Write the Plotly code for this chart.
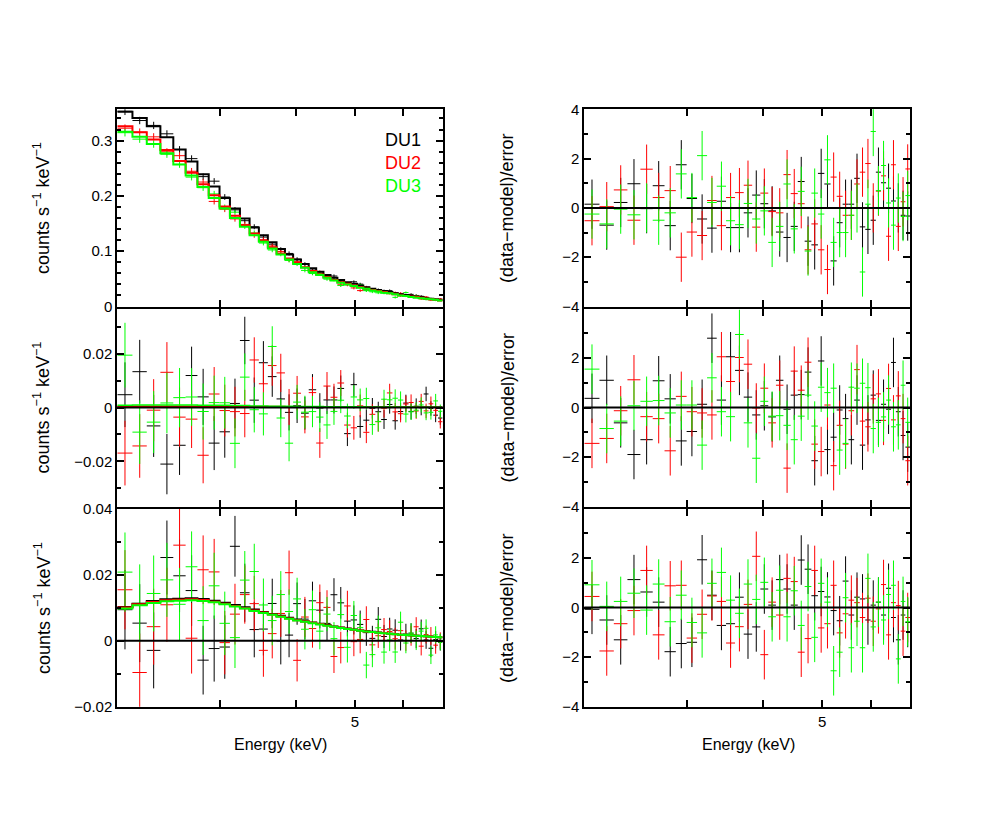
import math
import plotly.graph_objects as go

# ---------------- data ----------------
energy = [2.10, 2.22, 2.34, 2.46, 2.58, 2.70, 2.82, 2.94, 3.06, 3.18,
          3.30, 3.42, 3.54, 3.66, 3.78, 3.90, 4.02, 4.14, 4.26, 4.38,
          4.50, 4.62, 4.74, 4.86, 4.98, 5.10, 5.22, 5.34, 5.46, 5.58,
          5.70, 5.82, 5.94, 6.06, 6.18, 6.30, 6.42, 6.54, 6.66, 6.78, 6.90]
bin_half = 0.06

# Stokes I model (counts/s/keV)
I_model_du1 = [0.352, 0.341, 0.326, 0.306, 0.284, 0.262, 0.239, 0.217, 0.196, 0.177,
               0.159, 0.143, 0.129, 0.116, 0.104, 0.094, 0.085, 0.077, 0.069, 0.063,
               0.057, 0.052, 0.048, 0.044, 0.041, 0.038, 0.035, 0.032, 0.030, 0.028,
               0.026, 0.024, 0.022, 0.021, 0.019, 0.018, 0.017, 0.015, 0.014, 0.013, 0.012]
I_model_du2 = [0.326, 0.315, 0.302, 0.283, 0.263, 0.242, 0.221, 0.201, 0.181, 0.164,
               0.147, 0.132, 0.119, 0.107, 0.096, 0.087, 0.079, 0.071, 0.064, 0.058,
               0.053, 0.048, 0.044, 0.041, 0.038, 0.035, 0.032, 0.030, 0.028, 0.026,
               0.024, 0.022, 0.020, 0.019, 0.018, 0.017, 0.016, 0.014, 0.013, 0.012, 0.011]
I_model_du3 = [0.316, 0.307, 0.294, 0.277, 0.257, 0.237, 0.216, 0.196, 0.177, 0.160,
               0.144, 0.129, 0.117, 0.105, 0.094, 0.085, 0.077, 0.070, 0.062, 0.057,
               0.052, 0.047, 0.043, 0.040, 0.037, 0.034, 0.032, 0.029, 0.027, 0.025,
               0.024, 0.022, 0.020, 0.019, 0.017, 0.016, 0.015, 0.014, 0.013, 0.012, 0.011]
I_err = [0.0068, 0.0067, 0.0066, 0.0064, 0.0062, 0.0060, 0.0058, 0.0055, 0.0052, 0.0050,
         0.0047, 0.0045, 0.0043, 0.0041, 0.0039, 0.0037, 0.0035, 0.0034, 0.0032, 0.0031,
         0.0030, 0.0029, 0.0028, 0.0027, 0.0026, 0.0025, 0.0024, 0.0024, 0.0023, 0.0022,
         0.0022, 0.0021, 0.0021, 0.0020, 0.0020, 0.0019, 0.0019, 0.0018, 0.0018, 0.0017, 0.0017]

# Stokes Q model
Q_model_du1 = [0.0003, 0.0003, 0.0003, 0.0003, 0.0003, 0.0003, 0.0003, 0.0003, 0.0003, 0.0003,
               0.0002, 0.0002, 0.0002, 0.0002, 0.0002, 0.0002, 0.0002, 0.0002, 0.0002, 0.0002,
               0.0002, 0.0002, 0.0002, 0.0002, 0.0002, 0.0001, 0.0001, 0.0001, 0.0001, 0.0001,
               0.0001, 0.0001, 0.0001, 0.0001, 0.0001, 0.0001, 0.0001, 0.0001, 0.0001, 0.0001, 0.0001]
Q_model_du2 = [0.0005, 0.0005, 0.0005, 0.0005, 0.0005, 0.0005, 0.0005, 0.0005, 0.0005, 0.0005,
               0.0004, 0.0004, 0.0004, 0.0004, 0.0004, 0.0003, 0.0003, 0.0003, 0.0003, 0.0003,
               0.0003, 0.0003, 0.0003, 0.0003, 0.0003, 0.0002, 0.0002, 0.0002, 0.0002, 0.0002,
               0.0002, 0.0002, 0.0002, 0.0002, 0.0002, 0.0002, 0.0001, 0.0001, 0.0001, 0.0001, 0.0001]
Q_model_du3 = [0.0008, 0.0009, 0.0009, 0.0009, 0.0009, 0.0009, 0.0008, 0.0008, 0.0008, 0.0007,
               0.0007, 0.0006, 0.0006, 0.0005, 0.0005, 0.0005, 0.0004, 0.0004, 0.0004, 0.0004,
               0.0003, 0.0003, 0.0003, 0.0003, 0.0003, 0.0003, 0.0002, 0.0002, 0.0002, 0.0002,
               0.0002, 0.0002, 0.0002, 0.0002, 0.0002, 0.0001, 0.0001, 0.0001, 0.0001, 0.0001, 0.0001]

# Stokes U model
U_model_du1 = [0.0102, 0.0112, 0.0120, 0.0125, 0.0127, 0.0128, 0.0126, 0.0121, 0.0115, 0.0108,
               0.0101, 0.0094, 0.0087, 0.0081, 0.0075, 0.0069, 0.0064, 0.0059, 0.0055, 0.0051,
               0.0047, 0.0043, 0.0040, 0.0037, 0.0034, 0.0031, 0.0029, 0.0027, 0.0025, 0.0023,
               0.0021, 0.0020, 0.0018, 0.0017, 0.0016, 0.0015, 0.0014, 0.0013, 0.0012, 0.0011, 0.0010]
U_model_du2 = [0.0100, 0.0110, 0.0117, 0.0122, 0.0124, 0.0125, 0.0123, 0.0118, 0.0112, 0.0105,
               0.0098, 0.0091, 0.0085, 0.0079, 0.0073, 0.0067, 0.0062, 0.0058, 0.0054, 0.0050,
               0.0046, 0.0042, 0.0039, 0.0036, 0.0033, 0.0031, 0.0028, 0.0026, 0.0024, 0.0023,
               0.0021, 0.0019, 0.0018, 0.0017, 0.0016, 0.0015, 0.0014, 0.0013, 0.0012, 0.0011, 0.0010]
U_model_du3 = [0.0097, 0.0107, 0.0114, 0.0119, 0.0121, 0.0122, 0.0120, 0.0116, 0.0110, 0.0103,
               0.0097, 0.0090, 0.0084, 0.0078, 0.0072, 0.0066, 0.0061, 0.0057, 0.0053, 0.0049,
               0.0045, 0.0042, 0.0038, 0.0035, 0.0033, 0.0030, 0.0028, 0.0026, 0.0024, 0.0022,
               0.0021, 0.0019, 0.0018, 0.0017, 0.0016, 0.0015, 0.0014, 0.0013, 0.0012, 0.0011, 0.0010]
QU_err = [0.0120, 0.0118, 0.0115, 0.0112, 0.0110, 0.0107, 0.0104, 0.0100, 0.0096, 0.0092,
          0.0088, 0.0084, 0.0080, 0.0075, 0.0071, 0.0067, 0.0064, 0.0061, 0.0058, 0.0055,
          0.0052, 0.0050, 0.0048, 0.0046, 0.0044, 0.0042, 0.0040, 0.0038, 0.0037, 0.0035,
          0.0034, 0.0033, 0.0032, 0.0031, 0.0030, 0.0029, 0.0028, 0.0027, 0.0027, 0.0026, 0.0025]

# residuals (data-model)/error
resI_du1 = [0.15, -0.7, 0.22, 0.98, -0.03, 0.9, -0.72, 1.75, 0.38, -0.45,
            -0.82, 0.27, -0.8, -0.8, -0.2, 0.52, 0.17, -0.12, -0.98, -1.2,
            -0.75, 1.07, -1.35, -1.5, 1.4, 0.97, -2.15, -0.6, 0.15, 0.15,
            1.2, -0.77, -0.87, -0.5, 1.45, 1.02, 0.8, 0.28, 0.0, -0.3, -0.33]
resI_du2 = [-0.52, 0.05, 0.73, -0.5, 1.57, 0.42, 0.7, -2.0, -0.98, -1.12,
            0.3, -0.72, 0.42, 0.62, 0.92, -0.78, 0.6, -0.15, -0.2, 1.35,
            0.58, 0.17, -1.7, -0.65, -1.7, -2.5, 1.25, 0.47, -0.3, -0.3,
            0.97, 1.45, 1.8, 0.0, 0.68, 1.3, -1.15, 1.75, -0.75, 0.25, 1.58]
resI_du3 = [-0.25, -0.65, -0.05, -0.28, 0.0, -0.5, -0.2, 1.38, 0.42, 2.12,
            0.22, 0.88, -0.52, -0.68, 0.18, -0.45, -0.12, -1.4, -0.75, 0.97,
            -0.85, 0.67, -1.75, 0.6, -0.25, 1.95, -1.4, -1.0, -1.0, -0.3,
            0.0, -2.6, 0.15, 3.1, 0.7, 1.72, 0.2, -0.7, 0.4, -0.35, 0.5]

resQ_du1 = [0.37, 1.1, -0.62, -1.9, -1.3, 1.08, 0.35, -1.35, -0.97, 0.13,
            2.8, 0.3, 2.05, 1.5, 0.42, -0.3, 0.07, -0.38, 1.1, -0.07,
            0.5, 0.52, 1.43, -2.15, 1.88, -1.7, -1.2, -0.1, -0.45, -1.3,
            0.3, -1.52, -0.5, 0.5, -0.52, 0.13, -0.07, 1.82, -0.17, -1.13, -1.6]
resQ_du2 = [-1.45, -1.25, -0.13, 1.12, -0.37, -0.45, -1.75, 0.45, -0.17, -0.22,
            -0.3, 2.05, 1.05, 2.02, 1.75, -0.02, 0.78, -0.62, 0.9, -2.45,
            1.47, 0.7, 1.83, -1.48, -1.78, 0.1, -2.35, -0.72, -1.48, -0.13,
            1.53, -0.55, -0.78, 0.35, 0.55, -0.52, 0.77, -0.5, 0.47, -0.45, -2.15]
resQ_du3 = [1.55, -0.85, -0.55, 0.07, 0.25, 0.28, -0.22, 0.1, 0.1, -1.52,
            1.2, -0.17, -0.37, 2.95, -0.62, -2.05, 0.25, -0.35, -0.33, -0.72,
            -1.3, -0.35, 0.5, -0.75, 0.82, 0.6, 0.78, -1.72, -1.45, 0.82,
            0.78, 0.98, 0.8, -0.85, -0.6, -0.38, 0.3, -0.78, -0.7, 0.9, -0.6]

resU_du1 = [-0.07, -0.5, -1.3, 1.13, 0.63, 0.22, -1.78, -1.45, -1.4, 1.93,
            0.5, -0.72, -0.65, 0.42, -1.07, -0.78, 0.75, 0.1, 1.13, 0.75,
            0.1, 1.92, 1.55, 0.48, 0.65, 0.43, -0.12, -0.53, 1.07, -0.3,
            0.42, 0.35, -0.5, 0.1, 0.22, -0.3, 0.78, -0.4, -1.3, -0.3, -0.6]
resU_du2 = [0.45, -1.75, -0.65, -0.12, 1.5, -1.1, 0.88, 0.9, -1.23, -0.27,
            0.47, 0.25, -1.43, -0.77, 0.13, 2.07, -1.9, 0.22, -0.3, 1.18,
            1.05, -1.8, -1.25, 1.5, -0.82, -0.65, 0.9, -1.02, -0.25, 0.3,
            0.2, -0.4, 0.38, -0.55, -0.05, 0.93, -1.1, 0.2, 0.08, -0.95, -0.4]
resU_du3 = [0.92, 0.05, 0.25, 0.58, -0.1, 0.95, -0.57, 0.5, -0.6, -1.02,
            0.98, 1.42, 0.3, -0.23, 0.95, 0.33, 1.02, -0.37, 0.7, -0.37,
            0.68, -0.72, 0.85, -1.2, 0.98, 0.22, -2.55, -1.8, 0.4, -1.62,
            -0.55, -1.62, 1.18, -0.78, 0.22, -0.5, 0.53, 0.9, -2.07, 0.25, -0.57]

detectors = ["DU1", "DU2", "DU3"]
energy_major_ticks = [5]
energy_minor_ticks = [3, 4, 6]

arrays = [I_model_du1, I_model_du2, I_model_du3, I_err, Q_model_du1, Q_model_du2, Q_model_du3,
          U_model_du1, U_model_du2, U_model_du3, QU_err, resI_du1, resI_du2, resI_du3,
          resQ_du1, resQ_du2, resQ_du3, resU_du1, resU_du2, resU_du3]
for a in arrays:
    assert len(a) == len(energy), len(a)

# ---------------- styling ----------------
PAGE_W, PAGE_H = 981, 817
OFF = 8                      # default body margin of the html page
W, H = PAGE_W - 2 * OFF, PAGE_H - 2 * OFF
colors = ["#000000", "#ff0000", "#00ff00"]
FONT = "Liberation Sans, Arial, Helvetica, sans-serif"

edges = [e - bin_half for e in energy] + [energy[-1] + bin_half]


def px_x(p):
    return (p - OFF) / W


def px_y(p):
    return 1 - (p - OFF) / H


# plot-area pixel boxes (page pixels); frame lines are drawn just outside them
col_px = [(117.3, 442.6), (584.3, 910.0)]
row_px = [(109.3, 306.5), (308.5, 506.5), (508.5, 706.7)]
col_dom = [[px_x(l), px_x(r)] for (l, r) in col_px]
row_dom = [[px_y(b), px_y(t)] for (t, b) in row_px]

fig = go.Figure()

axid = {}
idx = 1
for c in range(2):
    for r in range(3):
        axid[(c, r)] = idx
        idx += 1


def axnames(c, r):
    i = axid[(c, r)]
    s = "" if i == 1 else str(i)
    return "x" + s, "y" + s


def add_points(c, r, yvals, yerr, color):
    xa, ya = axnames(c, r)
    fig.add_trace(go.Scatter(
        x=energy, y=yvals, mode="markers", xaxis=xa, yaxis=ya,
        marker=dict(size=0.1, color=color),
        error_x=dict(type="constant", value=bin_half, width=0, thickness=1, color=color),
        error_y=dict(type="data", array=yerr, width=0, thickness=1, color=color),
        hoverinfo="skip", showlegend=False))


def add_step(c, r, model, color, width):
    xa, ya = axnames(c, r)
    fig.add_trace(go.Scatter(
        x=edges, y=list(model) + [model[-1]], mode="lines", xaxis=xa, yaxis=ya,
        line=dict(color=color, width=width, shape="hv"),
        hoverinfo="skip", showlegend=False))


I_models = [I_model_du1, I_model_du2, I_model_du3]
Q_models = [Q_model_du1, Q_model_du2, Q_model_du3]
U_models = [U_model_du1, U_model_du2, U_model_du3]
resI = [resI_du1, resI_du2, resI_du3]
resQ = [resQ_du1, resQ_du2, resQ_du3]
resU = [resU_du1, resU_du2, resU_du3]

for d in range(3):
    col = colors[d]
    I_data = [m + r * e for m, r, e in zip(I_models[d], resI[d], I_err)]
    Q_data = [m + r * e for m, r, e in zip(Q_models[d], resQ[d], QU_err)]
    U_data = [m + r * e for m, r, e in zip(U_models[d], resU[d], QU_err)]
    add_points(0, 0, I_data, I_err, col)
    add_points(0, 1, Q_data, QU_err, col)
    add_points(0, 2, U_data, QU_err, col)

for d in range(3):
    add_step(0, 0, I_models[d], colors[d], 2)
    add_step(0, 1, Q_models[d], colors[d], 1.5)
    add_step(0, 2, U_models[d], colors[d], 2)

ones = [1.0] * len(energy)
for d in range(3):
    add_points(1, 0, resI[d], ones, colors[d])
    add_points(1, 1, resQ[d], ones, colors[d])
    add_points(1, 2, resU[d], ones, colors[d])

# ---------------- axes ----------------
xrange_log = [math.log10(edges[0]), math.log10(edges[-1])]
yspec = {
    (0, 0): dict(range=[0, 0.3566], tickvals=[0, 0.1, 0.2, 0.3], ticktext=["0", "0.1", "0.2", "0.3"], minor=0.02),
    (0, 1): dict(range=[-0.0367, 0.0367], tickvals=[-0.02, 0, 0.02], ticktext=["\u22120.02", "0", "0.02"], minor=0.01),
    (0, 2): dict(range=[-0.02, 0.04], tickvals=[-0.02, 0, 0.02, 0.04], ticktext=["\u22120.02", "0", "0.02", "0.04"], minor=0.01),
    (1, 0): dict(range=[-4, 4], tickvals=[-4, -2, 0, 2, 4], ticktext=["\u22124", "\u22122", "0", "2", "4"], minor=1),
    (1, 1): dict(range=[-4, 4], tickvals=[-4, -2, 0, 2], ticktext=["\u22124", "\u22122", "0", "2"], minor=1),
    (1, 2): dict(range=[-4, 4], tickvals=[-4, -2, 0, 2], ticktext=["\u22124", "\u22122", "0", "2"], minor=1),
}

layout_axes = {}
for c in range(2):
    for r in range(3):
        i = axid[(c, r)]
        s = "" if i == 1 else str(i)
        xa, ya = "x" + s, "y" + s
        spec = yspec[(c, r)]
        layout_axes["xaxis" + s] = dict(
            type="log", range=xrange_log, domain=col_dom[c], anchor=ya,
            tickmode="array", tickvals=energy_major_ticks,
            ticktext=[str(v) for v in energy_major_ticks],
            showticklabels=(r == 2), ticks="inside", ticklen=7, tickwidth=2, tickcolor="black",
            minor=dict(tickmode="array", tickvals=energy_minor_ticks, ticks="inside",
                       ticklen=7, tickwidth=2, tickcolor="black", showgrid=False),
            showline=True, linewidth=2, linecolor="black", mirror="allticks",
            showgrid=False, zeroline=False, automargin=False,
            tickfont=dict(family=FONT, size=15, color="black"))
        layout_axes["yaxis" + s] = dict(
            range=spec["range"], domain=row_dom[r], anchor=xa,
            tickmode="array", tickvals=spec["tickvals"], ticktext=spec["ticktext"],
            ticks="inside", ticklen=7, tickwidth=2, tickcolor="black",
            minor=dict(ticks="inside", ticklen=4, tickwidth=2, tickcolor="black",
                       tick0=0, dtick=spec["minor"], showgrid=False),
            showline=True, linewidth=2, linecolor="black", mirror="allticks",
            showgrid=False, zeroline=False, automargin=False,
            tickfont=dict(family=FONT, size=15, color="black"))

shapes = []
for (c, r) in [(0, 1), (0, 2), (1, 0), (1, 1), (1, 2)]:
    xa, ya = axnames(c, r)
    shapes.append(dict(type="line", xref=xa + " domain", yref=ya, x0=0, x1=1, y0=0, y1=0,
                       line=dict(color="black", width=2), layer="above"))

annotations = []
for r in range(3):
    yc = px_y([208, 407.5, 608][r])
    annotations.append(dict(text="counts s<sup>\u22121</sup> keV<sup>\u22121</sup>",
                            x=px_x(42), y=yc, xref="paper", yref="paper", showarrow=False,
                            xanchor="center", yanchor="middle",
                            textangle=-90, font=dict(family=FONT, size=18, color="black")))
    annotations.append(dict(text="(data\u2212model)/error",
                            x=px_x(507), y=yc, xref="paper", yref="paper", showarrow=False,
                            xanchor="center", yanchor="middle",
                            textangle=-90, font=dict(family=FONT, size=18, color="black")))
for xc in [280, 748]:
    annotations.append(dict(text="Energy (keV)", x=px_x(xc), y=px_y(744), xref="paper", yref="paper",
                            xanchor="center", yanchor="middle",
                            showarrow=False, font=dict(family=FONT, size=16, color="black")))
for d, yy in zip(range(3), [140, 163, 186]):
    annotations.append(dict(text=detectors[d], x=px_x(423), y=px_y(yy), xref="paper", yref="paper",
                            xanchor="right", yanchor="middle", showarrow=False,
                            font=dict(family=FONT, size=18, color=colors[d])))

fig.update_layout(
    template="none",
    width=W, height=H, margin=dict(l=0, r=0, t=0, b=0, pad=0), autosize=False,
    paper_bgcolor="white", plot_bgcolor="white", showlegend=False,
    font=dict(family=FONT, color="black"),
    shapes=shapes, annotations=annotations, **layout_axes)

fig.write_html("out.html")
